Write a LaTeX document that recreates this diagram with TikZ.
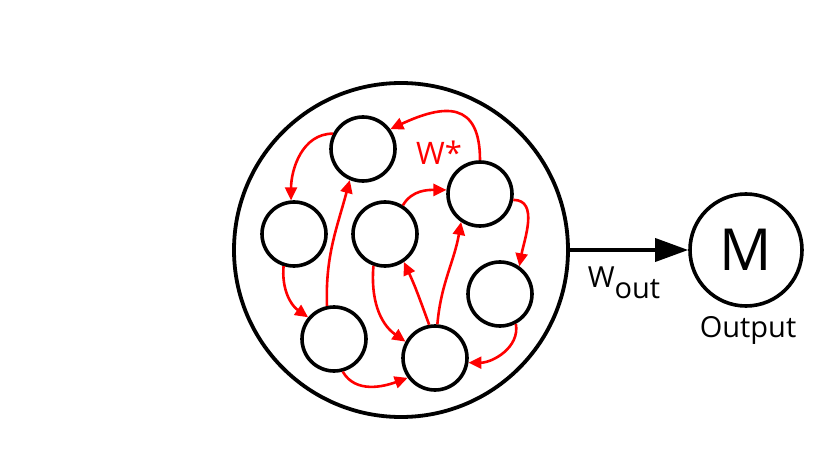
\documentclass[tikz,border=0pt]{standalone}
\usepackage{fontspec}
\setmainfont{Open Sans}
\usetikzlibrary{arrows.meta}
\begin{document}
\begin{tikzpicture}[x=1pt,y=1pt,
  neuron/.style={circle,draw=black,line width=3.6pt,minimum size=64pt,inner sep=0pt},
  rarr/.style={draw=red,line width=2.6pt,-{Triangle[length=13pt,width=12pt]}},
  lbl/.style={inner sep=0pt,font=\fontsize{29}{32}\selectfont}]
\useasboundingbox (0,0) rectangle (830,-468);
\node[circle,draw=black,line width=3.8pt,minimum size=334pt,inner sep=0pt] (res) at (401,-250) {};
\node[neuron] (A) at (363,-149) {};
\node[neuron] (B) at (294,-234) {};
\node[neuron] (C) at (385,-234) {};
\node[neuron] (D) at (480,-194) {};
\node[neuron] (E) at (500,-294) {};
\node[neuron] (F) at (334,-339) {};
\node[neuron] (G) at (435,-358) {};
\node[circle,draw=black,line width=3.6pt,minimum size=112pt,inner sep=0pt,font=\fontsize{58}{60}\selectfont] (M) at (746,-250) {M};
\node[lbl] (out) at (748,-330) {Output};
\node[lbl,text=red,font=\fontsize{31}{34}\selectfont] (wstar) at (439,-153) {W*};
\node[lbl] (wout) at (624,-283) {W\raisebox{-11pt}{out}};
\draw[line width=3.6pt,-{Triangle[length=33pt,width=23pt]}] (res.east) -- (M.west);
% red recurrent connections
\draw[rarr] (D.90) to[out=90,in=25,looseness=1.6] (A.36);
\draw[rarr] (A.153) to[out=180,in=90] (B.95);
\draw[rarr] (B.252) to[out=265,in=145] (F.140);
\draw[rarr] (F.102) to[out=92,in=255] (A.247);
\draw[rarr] (F.285) to[out=-60,in=200] (G.216);
\draw[rarr] (C.250) to[out=265,in=145] (G.151);
\draw[rarr] (G.100) to[out=110,in=-65] (C.304);
\draw[rarr] (G.86) to[out=85,in=-100] (D.236);
\draw[rarr] (C.58) to[out=60,in=180] (D.173);
\draw[rarr] (D.-10) to[out=0,in=80] (E.55);
\draw[rarr] (E.-62) to[out=-80,in=0] (G.-8);
\end{tikzpicture}
\end{document}
